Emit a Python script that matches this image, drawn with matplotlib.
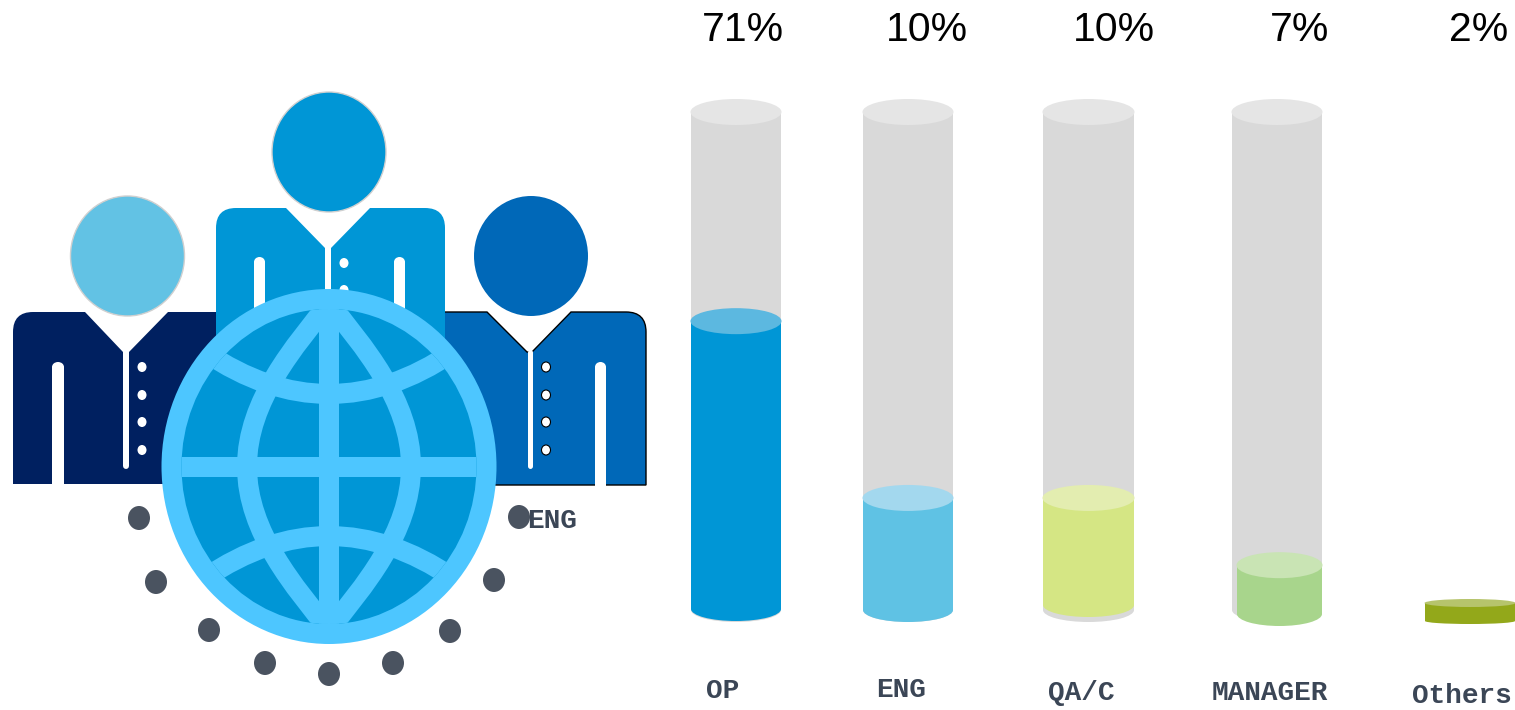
import matplotlib
matplotlib.use("Agg")
import matplotlib.pyplot as plt
from matplotlib.patches import Ellipse, Rectangle, PathPatch
from matplotlib.path import Path

categories = ["OP", "ENG", "QA/C", "MANAGER", "Others"]
percent_labels = ["71%", "10%", "10%", "7%", "2%"]
# fill height as a share of the tube
fill_levels = [0.58, 0.225, 0.225, 0.09, 0.02]

BODY = ["#0096d6", "#5fc2e4", "#d5e684", "#a8d58c", "#93a81a"]
CAP = ["#5cb8e0", "#a3d8ee", "#e3edb0", "#c9e4b4", "#b6c46c"]
TUBE = "#d9d9d9"
TUBE_CAP = "#e5e5e5"
RING = "#4dc6ff"
DOT = "#4a5360"
LABEL = "#3b4656"

tube_left = [691, 863, 1043, 1232, 1425]
tube_width = [90, 90, 91, 90, 90]
fill_left = [691, 863, 1043, 1237, 1425]
fill_bottom = [609, 610, 605, 614, 621]
label_pos = [(723, 691), (901, 690), (1081, 693), (1270, 693), (1462, 696)]
percent_x = [743, 927, 1114, 1300, 1479]
dots_x = [139, 156, 209, 265, 329, 393, 450, 494, 519]
dots_y = [518, 582, 630, 663, 674, 663, 631, 580, 517]

TUBE_TOP = 112
TUBE_BOTTOM = 610
MONO = "Liberation Mono"

fig = plt.figure(figsize=(15.15, 7.10), dpi=100, facecolor="white")
ax = fig.add_axes([0, 0, 1, 1])
ax.set_xlim(0, 1515)
ax.set_ylim(710, 0)
ax.axis("off")


def draw_tube(x, w, y0, y1, color, cap, hh=13, bottom_hh=12, z=2):
    ax.add_patch(Rectangle((x, y0), w, y1 - y0, fc=color, ec="none", zorder=z))
    ax.add_patch(Ellipse((x + w / 2, y1), w, bottom_hh * 2, fc=color, ec="none", zorder=z))
    ax.add_patch(Ellipse((x + w / 2, y0), w + 1, hh * 2, fc=cap, ec="none", zorder=z + 0.1))


def draw_person(left, right, top, bottom, v, slit, gaps, btn_x, btn_y, head, head_color, color,
                edge="none", head_edge="#d0d0d0", z=3):
    r = 20
    verts = [(left, bottom), (left, top + r), (left, top), (left + r, top),
             (v[0], top), (slit[0], v[1]), (slit[1], v[1]), (v[2], top),
             (right - r, top), (right, top), (right, top + r), (right, bottom),
             (left, bottom)]
    codes = [Path.MOVETO, Path.LINETO, Path.CURVE3, Path.CURVE3,
             Path.LINETO, Path.LINETO, Path.LINETO, Path.LINETO,
             Path.LINETO, Path.CURVE3, Path.CURVE3, Path.LINETO, Path.CLOSEPOLY]
    ax.add_patch(PathPatch(Path(verts, codes), fc=color, ec=edge, lw=1, zorder=z))
    ax.plot([(slit[0] + slit[1]) / 2] * 2, [v[1], slit[2]], color="white",
            lw=(slit[1] - slit[0]) * 0.72, solid_capstyle="round", zorder=z + 0.1)
    for g0, g1, gtop in gaps:
        ax.add_patch(Rectangle((g0, gtop + 5), g1 - g0, bottom - gtop - 4, fc="white", ec="none", zorder=z + 0.1))
        ax.add_patch(Ellipse(((g0 + g1) / 2, gtop + 5), g1 - g0, 10, fc="white", ec="none", zorder=z + 0.1))
    for by in btn_y:
        ax.add_patch(Ellipse((btn_x, by), 9, 10, fc="white",
                             ec="black" if edge != "none" else "none", lw=0.8, zorder=z + 0.1))
    ax.add_patch(Ellipse(head, 114, 120, fc=head_color, ec=head_edge, lw=1, zorder=z + 0.2))


# people, centre one sits in front of the other two
draw_person(13, 240, 312, 484, (85, 352, 168), (123, 129, 466),
            [(52, 64, 362)], 142, [367, 395, 422, 450], (127.5, 256), "#62c2e4", "#002060")
draw_person(410, 646, 312, 485, (487, 352, 571), (527, 532, 466),
            [(595, 606, 362)], 546, [367, 395, 422, 450], (531, 256), "#0068b8", "#0068b8",
            edge="black", head_edge="none")
draw_person(216, 445, 208, 440, (286, 248, 370), (325, 331, 400),
            [(254, 265, 257), (394, 405, 257)], 344, [263, 290], (329, 152), "#0096d6", "#0096d6", z=3.5)

# globe
GX, GY = 329, 466.5
ax.add_patch(Ellipse((GX, GY), 335, 355, fc=RING, ec="none", zorder=4))
inner = Ellipse((GX, GY), 295, 315, fc="#0096d6", ec="none", zorder=4.1)
ax.add_patch(inner)
LW = 14.4
grid = [
    Path([(GX, 285), (GX, 648)], [Path.MOVETO, Path.LINETO]),
    Path([(150, GY), (510, GY)], [Path.MOVETO, Path.LINETO]),
    Path([(205, 352), (329, 436), (453, 352)], [Path.MOVETO, Path.CURVE3, Path.CURVE3]),
    Path([(205, 578), (329, 494), (453, 578)], [Path.MOVETO, Path.CURVE3, Path.CURVE3]),
]
for sx in (-1, 1):
    grid.append(Path([(GX, 303), (GX + sx * 33, 345), (GX + sx * 82, 400), (GX + sx * 82, GY)],
                     [Path.MOVETO, Path.CURVE4, Path.CURVE4, Path.CURVE4]))
    grid.append(Path([(GX, 630), (GX + sx * 33, 588), (GX + sx * 82, 533), (GX + sx * 82, GY)],
                     [Path.MOVETO, Path.CURVE4, Path.CURVE4, Path.CURVE4]))
for p in grid:
    line = PathPatch(p, fc="none", ec=RING, lw=LW, capstyle="butt", zorder=4.2)
    ax.add_patch(line)
    line.set_clip_path(inner)

for dx, dy in zip(dots_x, dots_y):
    ax.add_patch(Ellipse((dx, dy), 22, 24, fc=DOT, ec="none", zorder=2))
ax.text(552, 521, "ENG", family=MONO, fontweight="bold", fontsize=20, color=LABEL,
        ha="center", va="center", zorder=5)

# tubes
for i, cat in enumerate(categories):
    x, w = tube_left[i], tube_width[i]
    if cat != "Others":
        draw_tube(x, w, TUBE_TOP, TUBE_BOTTOM, TUBE, TUBE_CAP)
    fy = TUBE_BOTTOM - fill_levels[i] * (TUBE_BOTTOM - TUBE_TOP)
    fw = x + w - fill_left[i]
    if cat == "Others":
        draw_tube(fill_left[i], fw, 603, fill_bottom[i], BODY[i], CAP[i], hh=4, bottom_hh=3, z=3)
    else:
        draw_tube(fill_left[i], fw, fy, fill_bottom[i], BODY[i], CAP[i], z=3)
    ax.text(percent_x[i], 30, percent_labels[i], family="Liberation Sans", fontsize=29.5,
            color="black", ha="center", va="center", zorder=5)
    ax.text(label_pos[i][0], label_pos[i][1], cat, family=MONO, fontweight="bold", fontsize=20,
            color=LABEL, ha="center", va="center", zorder=5)

fig.savefig("out.png", dpi=100, facecolor="white")
